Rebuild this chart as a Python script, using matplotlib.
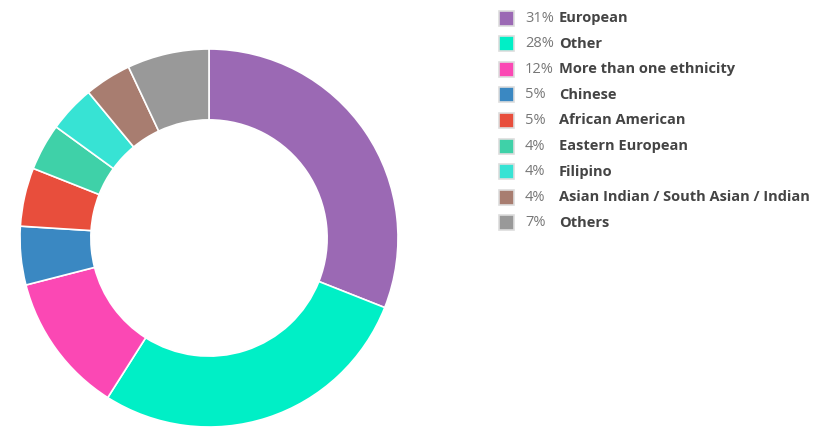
import numpy as np
import matplotlib
matplotlib.use("Agg")
import matplotlib.pyplot as plt
from matplotlib.patches import Rectangle

plt.rcParams["font.family"] = ["Open Sans", "DejaVu Sans"]

labels = ["European", "Other", "More than one ethnicity", "Chinese", "African American",
          "Eastern European", "Filipino", "Asian Indian / South Asian / Indian", "Others"]
shares = [31, 28, 12, 5, 5, 4, 4, 4, 7]
colors = ["#9b69b4", "#00efc6", "#fb48b4", "#3a88c2", "#e84e3c",
          "#3fd1a8", "#37e3d4", "#a87d70", "#999999"]

W, H = 825, 445
fig = plt.figure(figsize=(W / 100, H / 100), dpi=100)

# donut: centre (209, 238) px, outer radius 189 px
cx, cy, R = 209, 238, 189
ax = fig.add_axes([(cx - R) / W, (H - cy - R) / H, 2 * R / W, 2 * R / H])
ax.pie(shares, colors=colors, startangle=90, counterclock=False, radius=1.0,
       wedgeprops=dict(width=0.375, edgecolor="white", linewidth=1.2))
ax.set_xlim(-1, 1); ax.set_ylim(-1, 1)
ax.set_aspect("equal")
ax.axis("off")

# legend drawn in pixel space
lg = fig.add_axes([0, 0, 1, 1])
lg.set_xlim(0, W); lg.set_ylim(H, 0)
lg.axis("off")
y0, dy = 18, 25.6
for i, (lab, s, c) in enumerate(zip(labels, shares, colors)):
    y = y0 + i * dy
    lg.add_patch(Rectangle((499, y - 7.5), 15, 15, facecolor=c, edgecolor="#dddddd", lw=1.2))
    lg.text(525, y, "%d%%" % s, fontsize=10.5, color="#777777", va="center", ha="left")
    lg.text(559, y, lab, fontsize=10.5, color="#444444", fontweight="bold", va="center", ha="left")

fig.savefig("out.png", dpi=100, facecolor="white")
